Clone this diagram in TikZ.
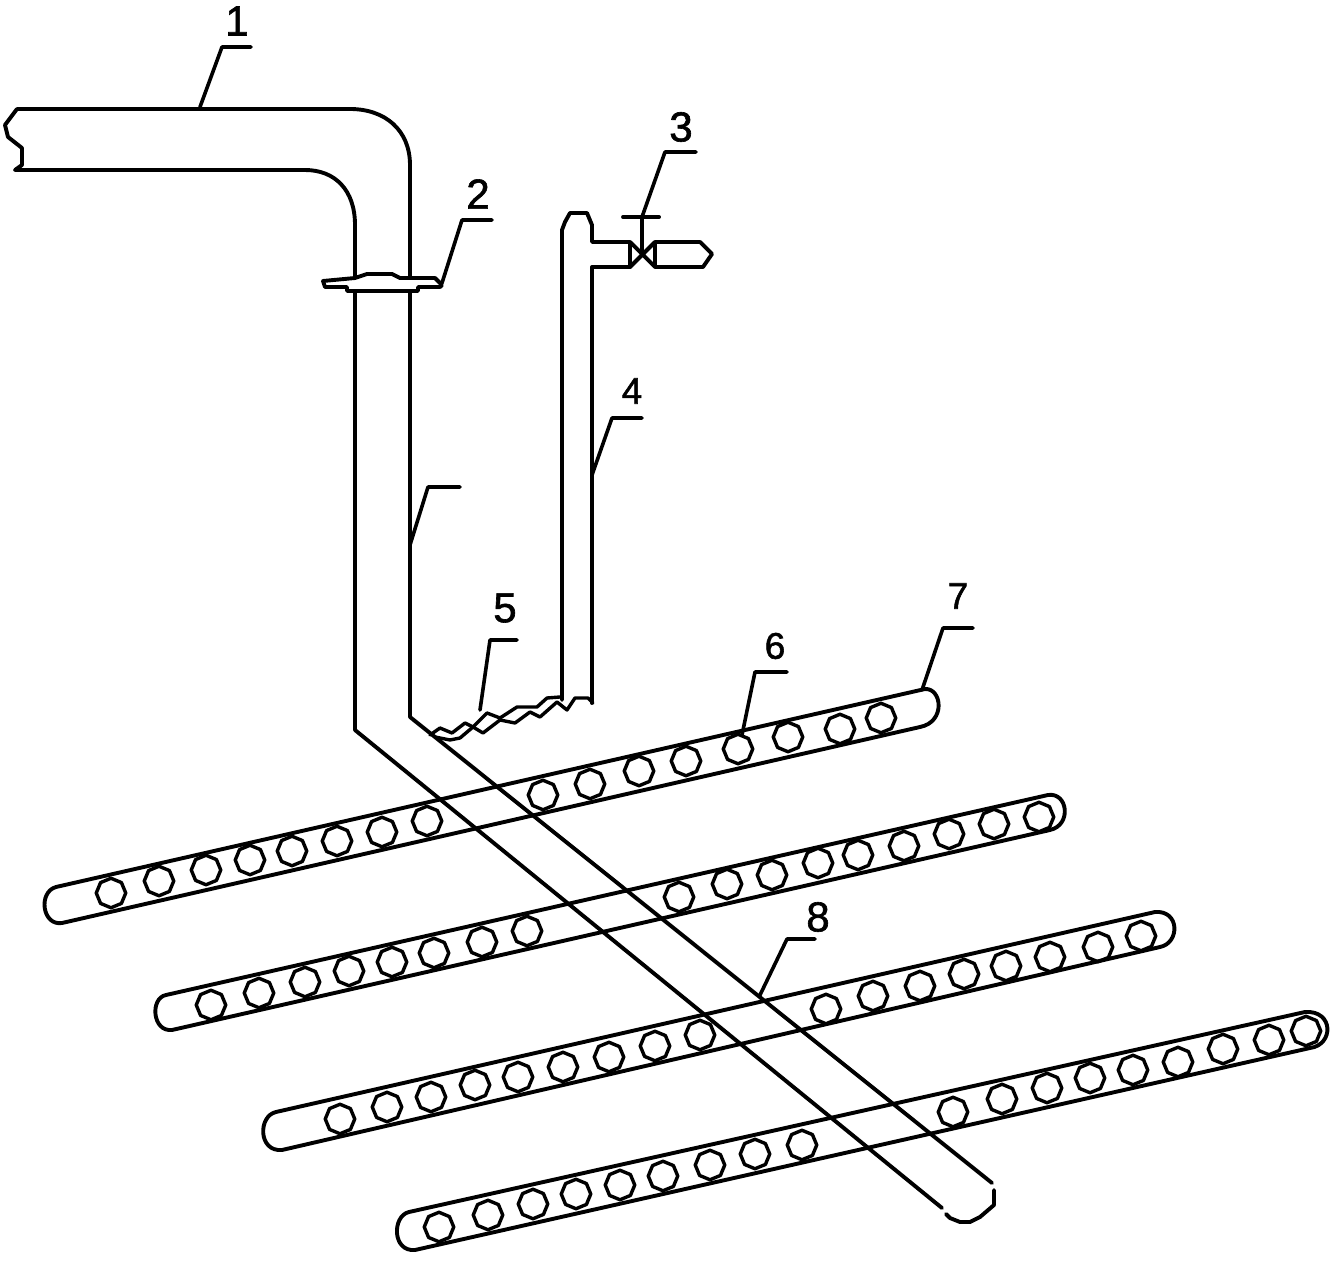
\documentclass[tikz,border=0pt]{standalone}
\usepackage{fontspec}
\usetikzlibrary{shapes.geometric}
\setmainfont{Liberation Sans}[FakeBold=1.5]
\tikzset{
  pipeline/.style={line width=3.9pt,line join=round,line cap=round,black},
  thinpipe/.style={line width=3.4pt,line join=round,line cap=round,black},
  hole/.style={draw=black,line width=3.4pt,regular polygon,regular polygon sides=8,shape border rotate=22.5,minimum size=29.5pt,inner sep=0pt,line join=round,fill=none},
  leader/.style={line width=3.6pt,line join=round,line cap=round,black},
  tag/.style={font=\fontsize{42}{42}\selectfont,inner sep=0pt,black},
  smalltag/.style={font=\fontsize{37}{37}\selectfont,inner sep=0pt,black}
}
\begin{document}
\begin{tikzpicture}[x=1pt,y=-1pt]
\useasboundingbox (0,0) rectangle (1341,1265);
\fill[white] (0,0) rectangle (1341,1265);
% main pipe
\draw[pipeline] (17,109) -- (350,109) .. controls (385,109) and (410,130) .. (410,165) -- (410,717) -- (992,1183);
\draw[pipeline] (994,1190) -- (994,1205) -- (980,1217) -- (970,1222) -- (960,1222) -- (950,1218) -- (946,1214);
\draw[pipeline] (942,1208) -- (355,730) -- (355,225) .. controls (355,190) and (335,170) .. (305,170) -- (15,170);
\draw[pipeline] (17,109) -- (5,125) -- (8,137) -- (22,148) -- (22,165) -- (15,170);
% flange
\draw[pipeline,fill=white] (323,281) -- (355,278) -- (367,274) -- (392,274) -- (400,278) -- (435,278) -- (442,285) -- (440,287) -- (418,287) -- (418,291) -- (347,291) -- (347,287) -- (325,287) -- cycle;
% branch pipe 4
\draw[pipeline] (562,700) -- (562,230) -- (565,222) -- (570,213) -- (587,213) -- (592,225) -- (592,242) -- (630,242);
\draw[pipeline] (630,267) -- (592,267) -- (592,703);
% valve
\draw[pipeline] (630,242) -- (630,267) -- (655,242) -- (655,267) -- cycle;
\draw[pipeline] (642,254) -- (642,217);
\draw[pipeline] (623,217) -- (659,217);
\draw[pipeline] (655,242) -- (700,242) -- (712,254) -- (703,267) -- (655,267);
% wavy connection 5
\draw[thinpipe] (430,735) -- (440,728) -- (452,733) -- (465,723) -- (473,727) -- (487,713) -- (500,718) -- (517,707) -- (537,707) -- (547,698) -- (560,697);
\draw[thinpipe] (435,737) -- (450,740) -- (460,738) -- (473,727) -- (483,733) -- (500,720) -- (515,723) -- (530,712) -- (540,717) -- (557,702) -- (567,710) -- (575,698) -- (588,698) -- (593,703);
% perforated pipes
\draw[pipeline] (56,887) -- (925,689) .. controls (942,688) and (946,722) .. (920,727) -- (62,923) .. controls (42,926) and (38,892) .. (56,887) -- cycle;
\draw[pipeline] (166,995) -- (1048,795) .. controls (1068,792) and (1072,825) .. (1050,830) -- (172,1030) .. controls (152,1032) and (150,998) .. (166,995) -- cycle;
\draw[pipeline] (276,1112) -- (1155,912) .. controls (1180,910) and (1180,943) .. (1160,947) -- (282,1150) .. controls (258,1152) and (258,1116) .. (276,1112) -- cycle;
\draw[pipeline] (409,1212) -- (1305,1012) .. controls (1334,1010) and (1334,1045) .. (1310,1048) -- (415,1250) .. controls (392,1252) and (392,1216) .. (409,1212) -- cycle;
% holes
\foreach \n/\x/\y in {a1/111/893,a2/159/881,a3/206/870,a4/250/860,a5/292/851,a6/337/841,a7/382/832,a8/427/821,a9/543/795,a10/590/784,a11/639/771,a12/686/761,a13/738/749,a14/788/737,a15/840/729,a16/881/718,
 b1/211/1005,b2/259/993,b3/305/982,b4/349/971,b5/392/962,b6/434/953,b7/482/942,b8/527/931,b9/679/897,b10/727/884,b11/772/875,b12/818/863,b13/858/855,b14/904/846,b15/949/834,b16/994/824,b17/1039/817,
 c1/340/1119,c2/387/1107,c3/431/1097,c4/475/1085,c5/518/1077,c6/563/1067,c7/609/1057,c8/655/1046,c9/700/1035,c10/826/1009,c11/873/996,c12/920/986,c13/964/974,c14/1006/966,c15/1050/957,c16/1098/947,c17/1141/936,
 d1/439/1227,d2/488/1215,d3/533/1204,d4/576/1194,d5/620/1185,d6/663/1176,d7/710/1165,d8/755/1154,d9/802/1145,d10/953/1112,d11/1002/1099,d12/1047/1088,d13/1090/1078,d14/1133/1070,d15/1178/1062,d16/1223/1049,d17/1269/1040,d18/1306/1031}
  \node[hole] (h\n) at (\x,\y) {};
% labels
\node[tag] (t1) at (237,21) {1};
\node[tag] (t2) at (478,194) {2};
\node[tag] (t3) at (681,127) {3};
\node[smalltag] (t4) at (632,391) {4};
\node[tag] (t5) at (505,608) {5};
\node[smalltag] (t6) at (775,646) {6};
\node[smalltag] (t7) at (958,596) {7};
\node[tag] (t8) at (818,917) {8};
% leaders
\draw[leader] (200,107) -- (222,47) -- (251,47);
\draw[leader] (442,283) -- (462,220) -- (492,220);
\draw[leader] (642,217) -- (665,152) -- (696,152);
\draw[leader] (592,475) -- (612,418) -- (642,418);
\draw[leader] (410,545) -- (428,487) -- (460,487);
\draw[leader] (480,710) -- (490,640) -- (517,640);
\draw[leader] (742,735) -- (755,672) -- (787,672);
\draw[leader] (922,690) -- (943,628) -- (973,628);
\draw[leader] (760,995) -- (787,939) -- (815,939);
\end{tikzpicture}
\end{document}
